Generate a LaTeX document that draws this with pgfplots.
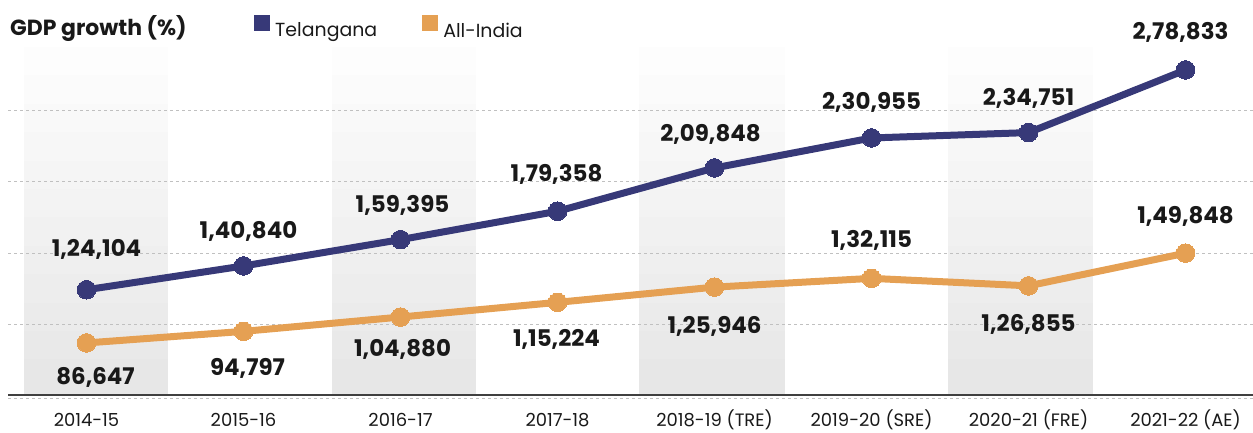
\documentclass[border=0pt]{standalone}
\usepackage{fontspec}
\setmainfont{Poppins}
\usepackage{pgfplots}
\pgfplotsset{compat=1.18}
\usepackage{pgfplotstable}
\definecolor{tel}{RGB}{55,57,120}
\definecolor{ind}{RGB}{229,160,83}
\definecolor{gridc}{RGB}{192,192,192}
\definecolor{txt}{RGB}{25,25,25}

\pgfplotstableread{
x y lab off dx
0 124104 1,24,104 41 10
1 140840 1,40,840 35 5
2 159395 1,59,395 35 2
3 179358 1,79,358 38 -1
4 209848 2,09,848 34 -4
5 230955 2,30,955 36 0
6 234751 2,34,751 35 0
7 278833 2,78,833 38 -5
}\teldata

\pgfplotstableread{
x y lab off dx
0 86647 86,647 -34 9
1 94797 94,797 -36 4
2 104880 1,04,880 -31 2
3 115224 1,15,224 -36 -1
4 125946 1,25,946 -38 0
5 132115 1,32,115 39 0
6 126855 1,26,855 -38 0
7 149848 1,49,848 38 0
}\inddata

\pgfplotsset{
  labelled/.style={
    nodes near coords,
    point meta=explicit symbolic,
    visualization depends on={\thisrow{off} \as \off},
    visualization depends on={\thisrow{dx} \as \dx},
    nodes near coords style={font=\bfseries\fontsize{23}{27}\selectfont, text=txt, anchor=center, text height=16bp, text depth=0pt, inner sep=0pt, yshift=\off bp, xshift=\dx bp},
  },
  band/.style={on layer=axis background, draw=none, fill=black, fill opacity=0.0068, forget plot},
  gline/.style={gridc, dash pattern=on 3bp off 3bp, line width=0.9bp, forget plot},
}
\newcommand{\bandlevel}[1]{%
  \addplot[band] coordinates {(-0.401,50000) (-0.401,#1) (0.522,#1) (0.522,50000)};
  \addplot[band] coordinates {(1.561,50000) (1.561,#1) (2.478,#1) (2.478,50000)};
  \addplot[band] coordinates {(3.522,50000) (3.522,#1) (4.446,#1) (4.446,50000)};
  \addplot[band] coordinates {(5.484,50000) (5.484,#1) (6.408,#1) (6.408,50000)};
}

\begin{document}
\begin{tikzpicture}
\begin{axis}[
  at={(8bp,38bp)}, anchor=south west,
  scale only axis, width=1245bp, height=348bp,
  xmin=-0.5, xmax=7.43, ymin=50000, ymax=295000,
  clip=false, set layers,
  axis x line=bottom, axis y line=none,
  axis line style={-, draw=black!75, line width=1.3bp},
  xtick={0,...,7},
  xticklabels={2014-15,2015-16,2016-17,2017-18,{2018-19 (TRE)},{2019-20 (SRE)},{2020-21 (FRE)},{2021-22 (AE)}},
  major tick length=0pt,
  xticklabel style={font=\fontsize{18}{21}\selectfont, text=txt, anchor=center, text height=12.6bp, text depth=0pt, inner sep=0pt, yshift=-25bp},
  ytick=\empty,
  legend columns=2,
  legend image code/.code={\fill[#1,draw=none] (0bp,-0.5bp) rectangle (16bp,15.5bp);},
  legend style={at={(axis description cs:0.1976,1.058)}, anchor=west, draw=none, fill=none, inner sep=0pt,
    font=\fontsize{19}{22}\selectfont, text=txt,
    nodes={inner sep=0pt},
    /tikz/every odd column/.append style={column sep=5bp},
    /tikz/every even column/.append style={column sep=45bp}},
]
% shaded column bands (stacked translucent layers give the vertical gradient)
\bandlevel{295000}
\bandlevel{275000}
\bandlevel{255000}
\bandlevel{235000}
\bandlevel{215000}
\bandlevel{195000}
\bandlevel{175000}
\bandlevel{155000}
\bandlevel{135000}
\bandlevel{115000}
\bandlevel{95000}
\bandlevel{75000}
% dashed grid lines
\addplot[gline] coordinates {(-0.5,100000) (7.43,100000)};
\addplot[gline] coordinates {(-0.5,150000) (7.43,150000)};
\addplot[gline] coordinates {(-0.5,200000) (7.43,200000)};
\addplot[gline] coordinates {(-0.5,250000) (7.43,250000)};
\addplot[gline] coordinates {(-0.5,47900) (7.43,47900)};
% series
\addplot[tel, line width=7bp, mark=*, mark size=9.3bp, mark options={fill=tel, draw=tel, line width=0pt}, labelled]
  table[x=x, y=y, meta=lab] {\teldata};
\addlegendentry{Telangana}
\addplot[ind, line width=7bp, mark=*, mark size=9.3bp, mark options={fill=ind, draw=ind, line width=0pt}, labelled]
  table[x=x, y=y, meta=lab] {\inddata};
\addlegendentry{All-India}
\node[anchor=base west, inner sep=0pt, font=\bfseries\fontsize{22}{26}\selectfont, text=txt] at (axis description cs:0.0016,1.0325) {GDP growth (\%)};
\end{axis}
\pgfresetboundingbox
\path[use as bounding box] (0,0) rectangle (1253bp,433bp);
\end{tikzpicture}
\end{document}
